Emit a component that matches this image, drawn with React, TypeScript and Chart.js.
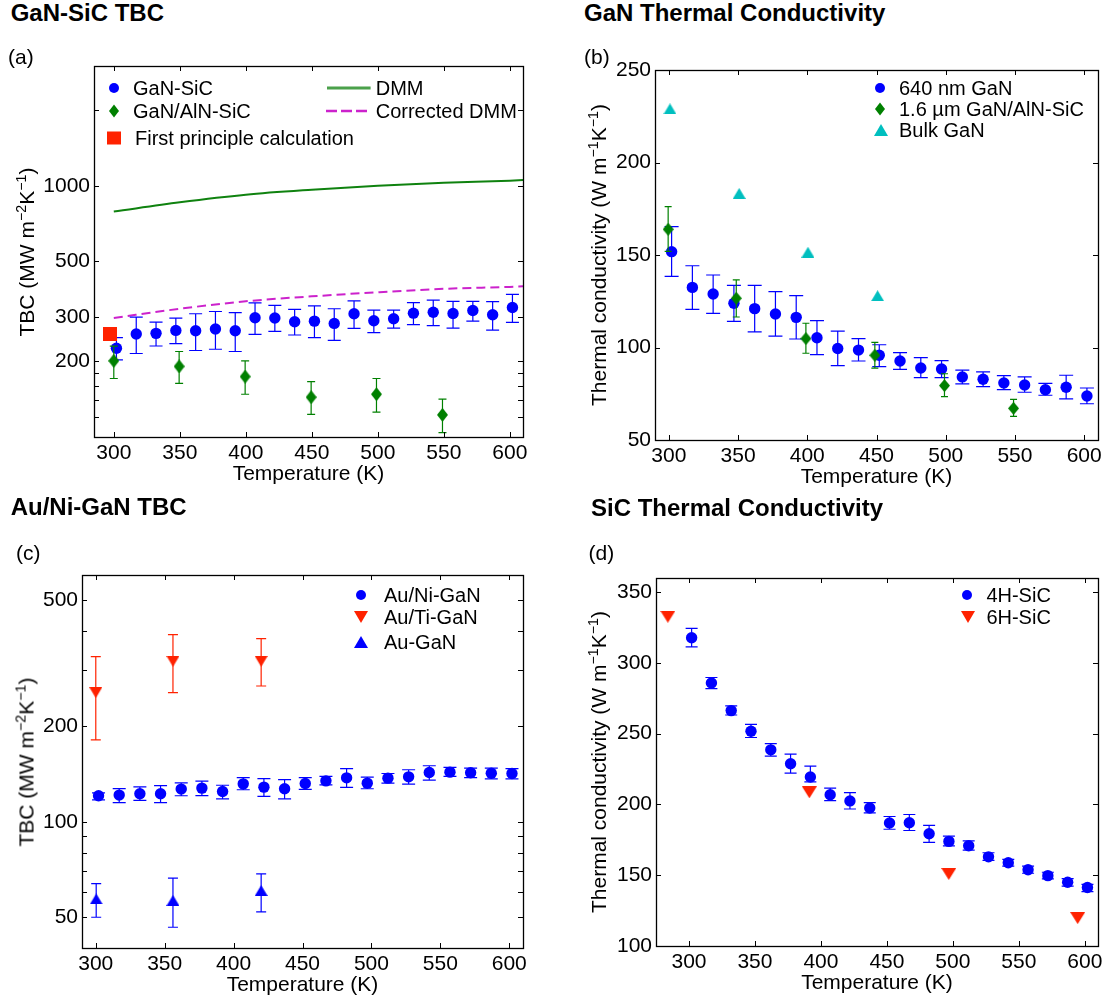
import React, { useEffect, useRef } from 'react';
import { Chart, registerables } from 'chart.js';

Chart.register(...registerables);

const FONT = '"Liberation Sans", Arial, Helvetica, sans-serif';

// ---------- shared ----------
const tempsSweep = [302, 317, 332, 347, 362, 377, 392, 407, 422, 437, 452, 467, 482, 497, 512, 527, 542, 557, 572, 587, 602];
const xTickLabels = [300, 350, 400, 450, 500, 550, 600];

// ---------- (a) GaN-SiC TBC ----------
const ganSicTbc = [225.6, 257, 258.6, 265.7, 265, 269, 265, 298.5, 297.7, 287.7, 289.3, 283.3, 309.5, 290.4, 295.8, 311.2, 314, 310.3, 319, 306.7, 328];
const ganSicLo = [202.8, 215, 230.3, 235.5, 221, 223.6, 219, 256.3, 263.4, 254.7, 248.6, 242.7, 270.7, 260.3, 271.5, 280, 277.4, 271.5, 289.3, 266.5, 285.9];
const ganSicHi = [248.6, 300, 286.7, 297.4, 309.6, 316, 312.5, 342, 334, 322, 333, 324, 348.6, 319.9, 320, 343, 350.5, 347, 347, 346, 370];
const ganAlnTemps = [300, 349.5, 399.5, 449.5, 499, 549];
const ganAlnTbc = [201, 191, 174, 144, 148, 122.5];
const ganAlnLo = [171, 163.5, 148, 123, 125.5, 104];
const ganAlnHi = [230, 219, 201, 166, 171, 141.6];
const firstPrincipleTemps = [297];
const firstPrincipleTbc = [258];
const dmmTemps = [300, 350, 400, 450, 500, 550, 600, 610];
const dmmTbc = [790, 860, 922, 965, 1001, 1028, 1048, 1054];
const corrDmmTbc = [298, 324, 347, 363, 377, 389, 396, 398];
const aYTickLabels = [200, 300, 500, 1000];
const aYTickMarks = [120, 140, 160, 180, 200, 300, 500, 1000, 2000];

// ---------- (b) GaN thermal conductivity ----------
const gan640K = [151.8, 132.5, 128.9, 123.9, 121, 118.1, 116.3, 105.3, 99.5, 98.6, 95.8, 92.7, 88.9, 88.4, 84.1, 82.8, 80.8, 79.7, 77.2, 78.5, 73.8];
const gan640Lo = [138.5, 120.6, 118.5, 114.1, 108.5, 106.2, 104.6, 96.1, 90.2, 92.7, 89.7, 88.2, 83.7, 83.7, 80.3, 78.8, 77.2, 75.8, 74.2, 72.2, 69.6];
const gan640Hi = [165.3, 144.2, 139.2, 133.6, 133.6, 130.2, 128, 114.5, 108.9, 104.8, 101.5, 97.2, 94.5, 92.9, 87.8, 86.8, 84.8, 84.1, 80.6, 85, 78.1];
const gan16Temps = [299.5, 348.7, 399, 448.8, 499.1, 549];
const gan16K = [163.9, 126.6, 104.8, 95.8, 79.4, 67.1];
const gan16Lo = [152, 116.5, 96.9, 88.8, 73.4, 62.8];
const gan16Hi = [176.1, 136.6, 113.1, 102.8, 85.8, 72];
const bulkTemps = [300.8, 350.8, 400.5, 450.8];
const bulkK = [229, 183.3, 151.5, 128];
const bYTicks = [50, 100, 150, 200, 250];

// ---------- (c) Au/Ni-GaN TBC ----------
const auNiTbc = [120.8, 121.4, 122.6, 122.6, 126.8, 127.7, 124.6, 131.7, 128.6, 127.1, 132, 134.6, 137.6, 132.4, 137.3, 138.6, 143, 143.4, 142.7, 142.3, 142];
const auNiLo = [117.3, 115, 116.8, 115, 120.8, 121, 118.1, 126.2, 120.3, 118.1, 126.5, 130.7, 128.3, 127.1, 132.4, 131.4, 135.4, 139, 137.9, 136.6, 136.6];
const auNiHi = [123.4, 127.3, 128.8, 130.1, 132.7, 134.3, 130.4, 137.9, 136.9, 135.9, 137.9, 139, 147.2, 138.3, 142, 145.9, 150.2, 148.4, 147.7, 147.7, 147.2];
const auTiTemps = [300, 356, 420];
const auTiTbc = [255.4, 320.6, 320.6];
const auTiLo = [181.3, 255.4, 268];
const auTiHi = [331.7, 388.9, 377.8];
const auTemps = [300.3, 356, 420];
const auTbc = [57.1, 56.5, 60.7];
const auLo = [50, 46.5, 52];
const auHi = [63.8, 66.4, 68.5];
const cYTickLabels = [50, 100, 200, 500];
const cYTickMarks = [50, 60, 70, 80, 90, 100, 200, 300, 400, 500];

// ---------- (d) SiC thermal conductivity ----------
const sic4hK = [317.8, 285.8, 266.3, 251.7, 238.6, 228.8, 219.4, 206.9, 202.5, 197.5, 186.9, 187.1, 179.3, 173.9, 170.8, 163, 158.8, 153.9, 149.7, 145, 141.3];
const sic4hLo = [311.3, 281.8, 263.2, 247.3, 234.1, 222.2, 216, 202.7, 196.8, 194, 182.5, 181.6, 173.2, 170.8, 167.8, 160.5, 156.5, 151.4, 147.4, 142.3, 138.4];
const sic4hHi = [324.4, 289.7, 269.6, 256.6, 243, 235.5, 227.1, 211.6, 208.4, 201.3, 191.5, 192.9, 185.2, 177.6, 174.3, 165.9, 161.2, 156.5, 152.1, 147.6, 143.6];
const sic6hTemps = [284, 391.2, 496.9, 594.6];
const sic6hK = [332.6, 208.6, 150.9, 119.7];
const dYTicks = [100, 150, 200, 250, 300, 350];

// ---------- colours ----------
const BLUE = '#0000ff';
const GREEN = '#008000';
const RED = '#ff2200';
const CYAN = '#00bfbf';
const MAGENTA = '#cc22cc';
const DMM_GREEN = '#0f820f';

// ---------- helpers ----------
const pts = (xs: number[], ys: number[]) => xs.map((x, i) => ({ x, y: ys[i] }));

function makeMarker(shape: string, w: number, h: number, color: string) {
  const c = document.createElement('canvas');
  c.width = w;
  c.height = h;
  const g = c.getContext('2d')!;
  g.fillStyle = color;
  g.beginPath();
  if (shape === 'diamond') {
    g.moveTo(w / 2, 0); g.lineTo(w, h / 2); g.lineTo(w / 2, h); g.lineTo(0, h / 2);
  } else if (shape === 'up') {
    g.moveTo(w / 2, 0); g.lineTo(w, h); g.lineTo(0, h);
  } else if (shape === 'down') {
    g.moveTo(0, 0); g.lineTo(w, 0); g.lineTo(w / 2, h);
  } else {
    g.rect(0, 0, w, h);
  }
  g.closePath();
  g.fill();
  return c;
}

const errorBarPlugin = {
  id: 'errorBars',
  beforeDatasetDraw(chart: any, args: any) {
    const ds: any = chart.data.datasets[args.index];
    if (!ds.errLo) return;
    const meta = args.meta;
    const xs = chart.scales[meta.xAxisID];
    const ys = chart.scales[meta.yAxisID];
    const ctx = chart.ctx;
    const cap = ds.capWidth / 2;
    ctx.save();
    ctx.strokeStyle = ds.errColor;
    ctx.lineWidth = 1.2;
    ds.data.forEach((p: any, i: number) => {
      const x = xs.getPixelForValue(p.x);
      const y1 = ys.getPixelForValue(ds.errLo[i]);
      const y2 = ys.getPixelForValue(ds.errHi[i]);
      ctx.beginPath();
      ctx.moveTo(x, y1); ctx.lineTo(x, y2);
      ctx.moveTo(x - cap, y1); ctx.lineTo(x + cap, y1);
      ctx.moveTo(x - cap, y2); ctx.lineTo(x + cap, y2);
      ctx.stroke();
    });
    ctx.restore();
  },
};

const frameTicksPlugin = {
  id: 'frameTicks',
  afterDatasetsDraw(chart: any, _args: any, opts: any) {
    const { left, right, top, bottom } = chart.chartArea;
    const ctx = chart.ctx;
    const len = 5;
    const xs = chart.scales.x;
    const ys = chart.scales.y;
    ctx.save();
    ctx.strokeStyle = '#000';
    ctx.lineWidth = 1;
    ctx.beginPath();
    (opts.xMarks || []).forEach((v: number) => {
      const px = Math.round(xs.getPixelForValue(v)) + 0.5;
      ctx.moveTo(px, bottom); ctx.lineTo(px, bottom - len);
      ctx.moveTo(px, top); ctx.lineTo(px, top + len);
    });
    (opts.yMarks || []).forEach((v: number) => {
      const py = Math.round(ys.getPixelForValue(v)) + 0.5;
      ctx.moveTo(left, py); ctx.lineTo(left + len, py);
      ctx.moveTo(right, py); ctx.lineTo(right - len, py);
    });
    ctx.stroke();
    ctx.lineWidth = 1.3;
    ctx.strokeRect(Math.round(left) + 0.5, Math.round(top) + 0.5, Math.round(right - left), Math.round(bottom - top));
    ctx.restore();
  },
};

function xAxis(min: number, max: number, H: number) {
  return {
    type: 'linear',
    position: 'bottom',
    min,
    max,
    grid: { display: false, drawTicks: false },
    border: { display: false },
    ticks: {
      font: { family: FONT, size: 21 },
      color: '#000',
      padding: 4,
      autoSkip: false,
      maxRotation: 0,
      callback: (v: any) => String(v),
    },
    title: { display: true, text: 'Temperature (K)', font: { family: FONT, size: 21 }, color: '#000', padding: 0 },
    afterBuildTicks: (s: any) => { s.ticks = xTickLabels.map((v) => ({ value: v })); },
    afterFit: (s: any) => { s.height = H; s.paddingLeft = 0; s.paddingRight = 0; },
  };
}

function yAxis(type: string, min: number, max: number, labels: number[], W: number) {
  return {
    type,
    position: 'left',
    min,
    max,
    grid: { display: false, drawTicks: false },
    border: { display: false },
    ticks: {
      font: { family: FONT, size: 21 },
      color: '#000',
      padding: 4,
      autoSkip: false,
      callback: (v: any) => String(v),
    },
    afterBuildTicks: (s: any) => { s.ticks = labels.map((v) => ({ value: v })); },
    afterFit: (s: any) => { s.width = W; s.paddingTop = 0; s.paddingBottom = 0; },
  };
}

type Spec = {
  canvas: [number, number, number, number];
  area: [number, number, number, number];
  xMin: number; xMax: number;
  yType: string; yMin: number; yMax: number;
  yLabels: number[]; yMarks: number[];
  datasets: () => any[];
};

function buildConfig(spec: Spec) {
  const [x0, y0, x1, y1] = spec.canvas;
  const [L, T, R, B] = spec.area;
  const H = 50;
  return {
    type: 'scatter',
    data: { datasets: spec.datasets() },
    options: {
      responsive: false,
      animation: false,
      devicePixelRatio: 1,
      events: [],
      layout: { padding: { left: 2, top: T - y0, right: x1 - R, bottom: y1 - B - H } },
      plugins: {
        legend: { display: false },
        tooltip: { enabled: false },
        frameTicks: { xMarks: xTickLabels, yMarks: spec.yMarks },
      },
      scales: {
        x: xAxis(spec.xMin, spec.xMax, H),
        y: yAxis(spec.yType, spec.yMin, spec.yMax, spec.yLabels, L - x0 - 2),
      },
    },
    plugins: [errorBarPlugin, frameTicksPlugin],
  };
}

const circleSet = (label: string, xs: number[], ys: number[], lo: number[], hi: number[], order: number, cap: number) => ({
  label, data: pts(xs, ys), order,
  pointStyle: 'circle', pointRadius: 5.7, pointBackgroundColor: BLUE, pointBorderColor: BLUE, pointBorderWidth: 0,
  errLo: lo, errHi: hi, errColor: BLUE, capWidth: cap,
});

const imgSet = (label: string, xs: number[], ys: number[], img: any, order: number, err?: { lo: number[]; hi: number[]; color: string; cap: number }) => ({
  label, data: pts(xs, ys), order,
  pointStyle: img, pointRadius: 6,
  ...(err ? { errLo: err.lo, errHi: err.hi, errColor: err.color, capWidth: err.cap } : {}),
});

const specs: Spec[] = [
  {
    canvas: [0, 50, 550, 495],
    area: [94, 66, 523, 437],
    xMin: 285, xMax: 610,
    yType: 'logarithmic', yMin: 100, yMax: 3000,
    yLabels: aYTickLabels, yMarks: aYTickMarks,
    datasets: () => [
      imgSet('First principle calculation', firstPrincipleTemps, firstPrincipleTbc, makeMarker('square', 14, 14, RED), 0),
      imgSet('GaN/AlN-SiC', ganAlnTemps, ganAlnTbc, makeMarker('diamond', 11, 14, GREEN), 1, { lo: ganAlnLo, hi: ganAlnHi, color: GREEN, cap: 8 }),
      circleSet('GaN-SiC', tempsSweep, ganSicTbc, ganSicLo, ganSicHi, 2, 13),
      { label: 'DMM', data: pts(dmmTemps, dmmTbc), order: 3, showLine: true, pointRadius: 0, borderColor: DMM_GREEN, borderWidth: 2, cubicInterpolationMode: 'monotone' },
      { label: 'Corrected DMM', data: pts(dmmTemps, corrDmmTbc), order: 4, showLine: true, pointRadius: 0, borderColor: MAGENTA, borderWidth: 2, borderDash: [9, 5], cubicInterpolationMode: 'monotone' },
    ],
  },
  {
    canvas: [560, 50, 1109, 495],
    area: [655, 70, 1098, 440],
    xMin: 290, xMax: 610,
    yType: 'linear', yMin: 50, yMax: 250,
    yLabels: bYTicks, yMarks: bYTicks,
    datasets: () => [
      imgSet('Bulk GaN', bulkTemps, bulkK, makeMarker('up', 13, 11, CYAN), 0),
      imgSet('1.6 µm GaN/AlN-SiC', gan16Temps, gan16K, makeMarker('diamond', 11, 13, GREEN), 1, { lo: gan16Lo, hi: gan16Hi, color: GREEN, cap: 7 }),
      circleSet('640 nm GaN', tempsSweep, gan640K, gan640Lo, gan640Hi, 2, 14),
    ],
  },
  {
    canvas: [0, 560, 550, 1002],
    area: [82, 575, 523, 948],
    xMin: 290, xMax: 610,
    yType: 'logarithmic', yMin: 40, yMax: 600,
    yLabels: cYTickLabels, yMarks: cYTickMarks,
    datasets: () => [
      imgSet('Au/Ti-GaN', auTiTemps, auTiTbc, makeMarker('down', 13, 11, RED), 0, { lo: auTiLo, hi: auTiHi, color: RED, cap: 10 }),
      imgSet('Au-GaN', auTemps, auTbc, makeMarker('up', 13, 11, BLUE), 1, { lo: auLo, hi: auHi, color: BLUE, cap: 10 }),
      circleSet('Au/Ni-GaN', tempsSweep, auNiTbc, auNiLo, auNiHi, 2, 13),
    ],
  },
  {
    canvas: [560, 560, 1109, 1002],
    area: [656, 578, 1098, 946],
    xMin: 275, xMax: 610,
    yType: 'linear', yMin: 100, yMax: 360,
    yLabels: dYTicks, yMarks: dYTicks,
    datasets: () => [
      imgSet('6H-SiC', sic6hTemps, sic6hK, makeMarker('down', 15, 12, RED), 0),
      circleSet('4H-SiC', tempsSweep, sic4hK, sic4hLo, sic4hHi, 1, 12),
    ],
  },
];

function Panel({ spec }: { spec: Spec }) {
  const ref = useRef<HTMLCanvasElement>(null);
  useEffect(() => {
    const chart = new Chart(ref.current as HTMLCanvasElement, buildConfig(spec) as any);
    return () => chart.destroy();
  }, [spec]);
  const [x0, y0, x1, y1] = spec.canvas;
  return (
    <canvas
      ref={ref}
      width={x1 - x0}
      height={y1 - y0}
      style={{ position: 'absolute', left: x0, top: y0, width: x1 - x0, height: y1 - y0 }}
    />
  );
}

// ---------- HTML text / legends ----------
type LegItem = { kind: string; color: string; x: number; y: number; label: string; tx: number; x2?: number };

function Marker({ it }: { it: LegItem }) {
  if (it.kind === 'line' || it.kind === 'dash') {
    const w = (it.x2 as number) - it.x;
    return (
      <svg style={{ position: 'absolute', left: it.x, top: it.y - 3, overflow: 'visible' }} width={w} height={6}>
        <line x1={0} y1={3} x2={w} y2={3} stroke={it.color} strokeWidth={it.kind === 'line' ? 3 : 2.5}
          strokeDasharray={it.kind === 'dash' ? '11 4' : undefined} strokeOpacity={it.kind === 'line' ? 0.75 : 1} />
      </svg>
    );
  }
  const s = 16;
  let shape: any = null;
  if (it.kind === 'circle') shape = <circle cx={8} cy={8} r={5} fill={it.color} />;
  else if (it.kind === 'diamond') shape = <polygon points="8,1.5 13,8 8,14.5 3,8" fill={it.color} />;
  else if (it.kind === 'square') shape = <rect x={1} y={1.5} width={14} height={13} fill={it.color} />;
  else if (it.kind === 'up') shape = <polygon points="8,2 15,14 1,14" fill={it.color} />;
  else if (it.kind === 'down') shape = <polygon points="1,2 15,2 8,14" fill={it.color} />;
  return (
    <svg style={{ position: 'absolute', left: it.x - s / 2, top: it.y - s / 2 }} width={s} height={s}>
      {shape}
    </svg>
  );
}

const legendItems: LegItem[] = [
  { kind: 'circle', color: BLUE, x: 113.6, y: 88, label: 'GaN-SiC', tx: 133 },
  { kind: 'diamond', color: GREEN, x: 114.3, y: 111, label: 'GaN/AlN-SiC', tx: 133 },
  { kind: 'square', color: RED, x: 113.6, y: 138.3, label: 'First principle calculation', tx: 135 },
  { kind: 'line', color: DMM_GREEN, x: 326.8, x2: 370.4, y: 88, label: 'DMM', tx: 375.7 },
  { kind: 'dash', color: MAGENTA, x: 325.7, x2: 370.4, y: 111, label: 'Corrected DMM', tx: 375.7 },
  { kind: 'circle', color: BLUE, x: 880, y: 88.3, label: '640 nm GaN', tx: 899 },
  { kind: 'diamond', color: GREEN, x: 880, y: 109, label: '1.6 µm GaN/AlN-SiC', tx: 899 },
  { kind: 'up', color: CYAN, x: 881, y: 130, label: 'Bulk GaN', tx: 899 },
  { kind: 'circle', color: BLUE, x: 360.7, y: 594.8, label: 'Au/Ni-GaN', tx: 384 },
  { kind: 'down', color: RED, x: 361.4, y: 617, label: 'Au/Ti-GaN', tx: 384 },
  { kind: 'up', color: BLUE, x: 361.4, y: 642, label: 'Au-GaN', tx: 384 },
  { kind: 'circle', color: BLUE, x: 967, y: 595, label: '4H-SiC', tx: 986.4 },
  { kind: 'down', color: RED, x: 968, y: 617, label: '6H-SiC', tx: 986.4 },
];

const panelTitles = [
  { text: 'GaN-SiC TBC', x: 10.7, y: 12.8 },
  { text: 'GaN Thermal Conductivity', x: 584, y: 12.8 },
  { text: 'Au/Ni-GaN TBC', x: 10.7, y: 507 },
  { text: 'SiC Thermal Conductivity', x: 591, y: 507.5 },
];

const panelLetters = [
  { text: '(a)', x: 8, y: 55.5 },
  { text: '(b)', x: 584, y: 55.5 },
  { text: '(c)', x: 16, y: 551.5 },
  { text: '(d)', x: 588.6, y: 551.5 },
];

const yTitles = [
  { main: 'TBC (MW m', e1: '−2', mid: 'K', e2: '−1', x: 26, y: 251.5 },
  { main: 'Thermal conductivity (W m', e1: '−1', mid: 'K', e2: '−1', x: 598, y: 255 },
  { main: 'TBC (MW m', e1: '−2', mid: 'K', e2: '−1', x: 26, y: 761.5 },
  { main: 'Thermal conductivity (W m', e1: '−1', mid: 'K', e2: '−1', x: 598, y: 762 },
];

const centerY: React.CSSProperties = { position: 'absolute', transform: 'translateY(-50%)', lineHeight: 1, whiteSpace: 'nowrap', fontFamily: FONT, color: '#000' };
const supStyle: React.CSSProperties = { fontSize: '0.68em', verticalAlign: '0.55em', lineHeight: 0 };

export default function App() {
  return (
    <div style={{ position: 'absolute', left: 0, top: 0, width: 1109, height: 1002, background: '#fff', overflow: 'hidden' }}>
      {specs.map((s, i) => <Panel key={i} spec={s} />)}
      {panelTitles.map((t, i) => (
        <div key={'t' + i} style={{ ...centerY, left: t.x, top: t.y, fontSize: 24, fontWeight: 'bold' }}>{t.text}</div>
      ))}
      {panelLetters.map((t, i) => (
        <div key={'l' + i} style={{ ...centerY, left: t.x, top: t.y, fontSize: 21 }}>{t.text}</div>
      ))}
      {yTitles.map((t, i) => (
        <div key={'y' + i} style={{ position: 'absolute', left: t.x, top: t.y, transform: 'translate(-50%, -50%) rotate(-90deg)', lineHeight: 1, whiteSpace: 'nowrap', fontFamily: FONT, fontSize: 21, color: '#000' }}>
          {t.main}<span style={supStyle}>{t.e1}</span>{t.mid}<span style={supStyle}>{t.e2}</span>)
        </div>
      ))}
      {legendItems.map((it, i) => (
        <React.Fragment key={'g' + i}>
          <Marker it={it} />
          <div style={{ ...centerY, left: it.tx, top: it.y, fontSize: 20 }}>{it.label}</div>
        </React.Fragment>
      ))}
    </div>
  );
}
